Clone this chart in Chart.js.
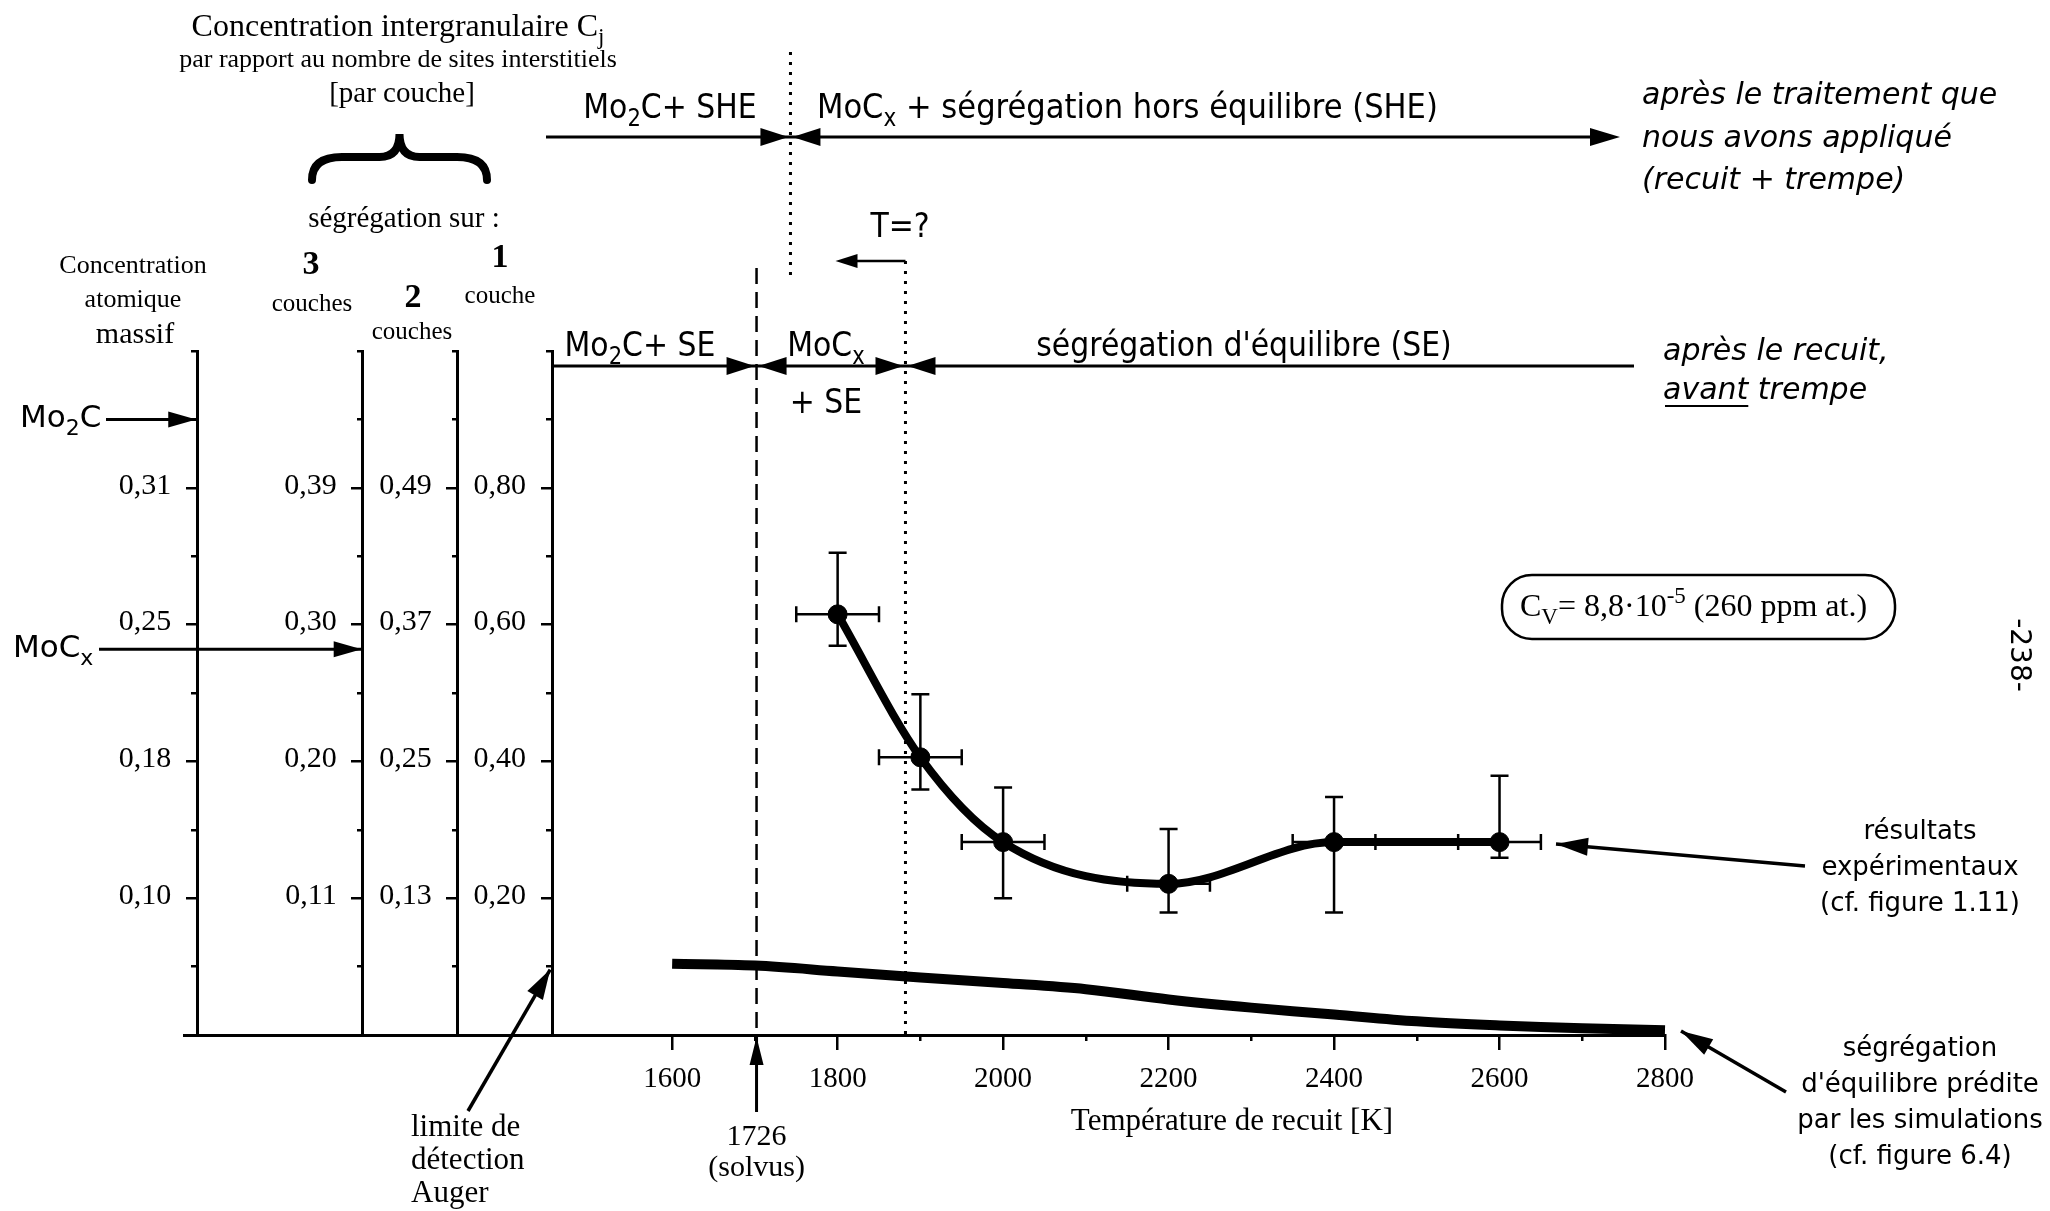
<!DOCTYPE html>
<html>
<head>
<meta charset="utf-8">
<script src="https://cdn.jsdelivr.net/npm/chart.js@4.4.1/dist/chart.umd.min.js"></script>
<style>
html, body { margin: 0; padding: 0; background: #fff; }
#wrap { width: 2050px; height: 1211px; position: relative; }
</style>
</head>
<body>
<div id="wrap"><canvas id="chart"></canvas></div>
<script>
// values
var expT = [1800, 1900, 2000, 2200, 2400, 2600];
var expC = [0.615, 0.406, 0.282, 0.221, 0.282, 0.282];
var expLow = [0.569, 0.359, 0.200, 0.179, 0.179, 0.259];
var expHigh = [0.705, 0.498, 0.362, 0.301, 0.348, 0.379];
var expTErr = [50, 50, 50, 50, 50, 50];

var simT = [1600, 1700, 1800, 1900, 2000, 2100, 2200, 2300, 2400, 2500, 2600, 2700, 2800];
var simC = [0.104, 0.1015, 0.093, 0.084, 0.076, 0.067, 0.052, 0.040, 0.030, 0.020, 0.014, 0.010, 0.007];

var majorX = [1600, 1800, 2000, 2200, 2400, 2600, 2800];
var minorX = [1700, 1900, 2100, 2300, 2500, 2700];
var majorY = [0.2, 0.4, 0.6, 0.8];
var minorY = [0.1, 0.3, 0.5, 0.7, 0.9, 1.0];

var massifLabels = ['0,10', '0,18', '0,25', '0,31'];
var couches3Labels = ['0,11', '0,20', '0,30', '0,39'];
var couches2Labels = ['0,13', '0,25', '0,37', '0,49'];
var couche1Labels = ['0,20', '0,40', '0,60', '0,80'];

// extra concentration axes, placed on the temperature scale
var massifAt = 1026, couches3At = 1226, couches2At = 1341, couche1At = 1455;
var labelShift = 31.5; // labels sit this far (in K) left of their axis

var solvusLineT = 1702, solvusLabel = '1726';
var sheT = 1743, tqT = 1882;
var mo2cLevel = 0.9, mocxLevel = 0.564, augerLevel = 0.1, recuitRow = 0.978;

var serif = "'Liberation Serif', 'Times New Roman', serif";
var sans = "'DejaVu Sans', Verdana, sans-serif";

function pts(xs, ys) {
    return xs.map(function (x, i) { return { x: x, y: ys[i] }; });
}

function fixedTicks(list) {
    return function (sc) { sc.ticks = list.map(function (v) { return { value: v }; }); };
}

// one concentration axis = line with long ticks, short ticks, and a label row
function yAxis(id, at, labels) {
    var s = {};
    s[id] = {
        type: 'linear', min: 0, max: 1, position: { x: at },
        afterBuildTicks: fixedTicks(majorY),
        ticks: { display: false },
        grid: { drawOnChartArea: false, tickLength: 10, lineWidth: 2.5, color: '#000' },
        border: { color: '#000', width: 3 }
    };
    s[id + 'm'] = {
        type: 'linear', min: 0, max: 1, position: { x: at },
        afterBuildTicks: fixedTicks(minorY),
        ticks: { display: false },
        grid: { drawOnChartArea: false, tickLength: 6, lineWidth: 2.5, color: '#000' },
        border: { display: false }
    };
    s[id + 'l'] = {
        type: 'linear', min: 0, max: 1, position: { x: at - labelShift },
        afterBuildTicks: fixedTicks(majorY),
        ticks: {
            callback: function (v, i) { return labels[i]; },
            font: { family: serif, size: 30 }, color: '#000', labelOffset: -2, autoSkip: false
        },
        grid: { display: false },
        border: { display: false }
    };
    return s;
}

var scales = {
    x: {
        type: 'linear', min: 1010, max: 2800, position: { y: 0 },
        afterBuildTicks: fixedTicks(majorX),
        ticks: {
            callback: function (v) { return String(v); },
            font: { family: serif, size: 29 }, color: '#000', padding: 14, autoSkip: false, maxRotation: 0
        },
        grid: { drawOnChartArea: false, tickLength: 13, lineWidth: 2.5, color: '#000' },
        border: { color: '#000', width: 3 }
    },
    xm: {
        type: 'linear', min: 1010, max: 2800, position: { y: 0 },
        afterBuildTicks: fixedTicks(minorX),
        ticks: { display: false },
        grid: { drawOnChartArea: false, tickLength: 6, lineWidth: 2.5, color: '#000' },
        border: { display: false }
    }
};
Object.assign(scales, yAxis('y', couche1At, couche1Labels));
Object.assign(scales, yAxis('y2', couches2At, couches2Labels));
Object.assign(scales, yAxis('y3', couches3At, couches3Labels));
Object.assign(scales, yAxis('yb', massifAt, massifLabels));

// text with sub/superscripts, optional horizontal squeeze
function rich(ctx, parts, x, y, o) {
    if (typeof parts === 'string') parts = [[parts]];
    var pre = (o.style || '') + ' ' + (o.weight || '') + ' ';
    var fMain = pre + o.size + 'px ' + o.family;
    var fSmall = pre + Math.round(o.size * 0.72) + 'px ' + o.family;
    var hs = o.hscale || 1;
    ctx.save();
    ctx.textBaseline = 'middle';
    ctx.textAlign = 'left';
    var w = 0;
    parts.forEach(function (p) { ctx.font = p[1] ? fSmall : fMain; w += ctx.measureText(p[0]).width; });
    var sx = x;
    if (o.align === 'center') sx = x - w * hs / 2;
    else if (o.align === 'right') sx = x - w * hs;
    ctx.translate(sx, y);
    ctx.scale(hs, 1);
    var cx = 0;
    parts.forEach(function (p) {
        ctx.font = p[1] ? fSmall : fMain;
        var dy = p[1] === 'sub' ? o.size * 0.32 : (p[1] === 'sup' ? -o.size * 0.36 : 0);
        ctx.fillText(p[0], cx, dy);
        cx += ctx.measureText(p[0]).width;
    });
    ctx.restore();
    return w * hs;
}

function head(ctx, tx, ty, fx, fy, len, half) {
    var a = Math.atan2(ty - fy, tx - fx);
    ctx.beginPath();
    ctx.moveTo(tx, ty);
    ctx.lineTo(tx - len * Math.cos(a) + half * Math.sin(a), ty - len * Math.sin(a) - half * Math.cos(a));
    ctx.lineTo(tx - len * Math.cos(a) - half * Math.sin(a), ty - len * Math.sin(a) + half * Math.cos(a));
    ctx.closePath();
    ctx.fill();
}

function arrow(ctx, x1, y1, x2, y2, len, half, lw) {
    ctx.lineWidth = lw || 3;
    ctx.beginPath();
    ctx.moveTo(x1, y1);
    ctx.lineTo(x2, y2);
    ctx.stroke();
    head(ctx, x2, y2, x1, y1, len || 28, half || 8);
}

function line(ctx, x1, y1, x2, y2, lw, dash) {
    ctx.save();
    ctx.lineWidth = lw || 3;
    ctx.setLineDash(dash || []);
    ctx.beginPath();
    ctx.moveTo(x1, y1);
    ctx.lineTo(x2, y2);
    ctx.stroke();
    ctx.restore();
}

function brace(ctx, x1, x2, yTip, yMid, yEnd) {
    var xm = (x1 + x2) / 2;
    ctx.save();
    ctx.lineWidth = 8;
    ctx.lineCap = 'round';
    ctx.beginPath();
    ctx.moveTo(x1, yEnd);
    ctx.quadraticCurveTo(x1, yMid, x1 + 30, yMid);
    ctx.lineTo(xm - 20, yMid);
    ctx.quadraticCurveTo(xm, yMid, xm, yTip);
    ctx.quadraticCurveTo(xm, yMid, xm + 20, yMid);
    ctx.lineTo(x2 - 30, yMid);
    ctx.quadraticCurveTo(x2, yMid, x2, yEnd);
    ctx.stroke();
    ctx.restore();
}

var errorBars = {
    id: 'errorBars',
    beforeDatasetsDraw: function (chart) {
        var ctx = chart.ctx, X = chart.scales.x, Y = chart.scales.y;
        ctx.save();
        ctx.strokeStyle = '#000';
        // vertical phase limits
        var sx = X.getPixelForValue(solvusLineT), tx = X.getPixelForValue(tqT), hx = X.getPixelForValue(sheT);
        line(ctx, sx, 268, sx, Y.getPixelForValue(0), 2.5, [16, 8]);
        line(ctx, tx, 261, tx, Y.getPixelForValue(0), 3, [3, 7]);
        line(ctx, hx, 52, hx, 281, 3, [3, 7]);
        ctx.lineWidth = 2.5;
        expT.forEach(function (t, i) {
            var x = X.getPixelForValue(t), y = Y.getPixelForValue(expC[i]);
            var yl = Y.getPixelForValue(expLow[i]), yh = Y.getPixelForValue(expHigh[i]);
            var xl = X.getPixelForValue(t - expTErr[i]), xh = X.getPixelForValue(t + expTErr[i]);
            ctx.beginPath();
            ctx.moveTo(x, yl); ctx.lineTo(x, yh);
            ctx.moveTo(x - 9, yl); ctx.lineTo(x + 9, yl);
            ctx.moveTo(x - 9, yh); ctx.lineTo(x + 9, yh);
            ctx.moveTo(xl, y); ctx.lineTo(xh, y);
            ctx.moveTo(xl, y - 8); ctx.lineTo(xl, y + 8);
            ctx.moveTo(xh, y - 8); ctx.lineTo(xh, y + 8);
            ctx.stroke();
        });
        ctx.restore();
    }
};

var annotations = {
    id: 'annotations',
    afterDraw: function (chart) {
        var ctx = chart.ctx, X = chart.scales.x, Y = chart.scales.y;
        var px = function (v) { return X.getPixelForValue(v); };
        var py = function (v) { return Y.getPixelForValue(v); };
        ctx.save();
        ctx.fillStyle = '#000';
        ctx.strokeStyle = '#000';

        // header over the concentration axes
        rich(ctx, [['Concentration intergranulaire C'], ['j', 'sub']], 398, 28, { family: serif, size: 32, align: 'center' });
        rich(ctx, 'par rapport au nombre de sites interstitiels', 398, 60, { family: serif, size: 26, align: 'center' });
        rich(ctx, '[par couche]', 402, 94, { family: serif, size: 29, align: 'center' });
        brace(ctx, 312, 487, 134, 157, 180);
        rich(ctx, 'ségrégation sur :', 404, 219, { family: serif, size: 29, align: 'center' });
        rich(ctx, 'Concentration', 133, 266, { family: serif, size: 26, align: 'center' });
        rich(ctx, 'atomique', 133, 300, { family: serif, size: 26, align: 'center' });
        rich(ctx, 'massif', 135, 335, { family: serif, size: 30, align: 'center' });
        rich(ctx, '3', 311, 265, { family: serif, size: 34, weight: 'bold', align: 'center' });
        rich(ctx, 'couches', 312, 304, { family: serif, size: 25, align: 'center' });
        rich(ctx, '2', 413, 298, { family: serif, size: 34, weight: 'bold', align: 'center' });
        rich(ctx, 'couches', 412, 332, { family: serif, size: 25, align: 'center' });
        rich(ctx, '1', 500, 258, { family: serif, size: 34, weight: 'bold', align: 'center' });
        rich(ctx, 'couche', 500, 296, { family: serif, size: 25, align: 'center' });

        // phase arrows on the left
        rich(ctx, [['Mo'], ['2', 'sub'], ['C']], 20, py(mo2cLevel), { family: sans, size: 31 });
        arrow(ctx, 106, py(mo2cLevel), px(massifAt) - 1, py(mo2cLevel), 28, 8, 3);
        rich(ctx, [['MoC'], ['x', 'sub']], 13, py(mocxLevel), { family: sans, size: 31 });
        arrow(ctx, 99, py(mocxLevel), px(couches3At) - 1, py(mocxLevel), 28, 8, 3);

        // row after quench
        var hx = px(sheT), sq = { family: sans, size: 34, hscale: 0.88 };
        line(ctx, 546, 137, 1595, 137, 3);
        head(ctx, 1620, 137, 1500, 137, 30, 9);
        head(ctx, hx - 2, 137, hx - 100, 137, 28, 9);
        head(ctx, hx + 2, 137, hx + 100, 137, 28, 9);
        rich(ctx, [['Mo'], ['2', 'sub'], ['C+ SHE']], 670, 109, Object.assign({ align: 'center' }, sq));
        rich(ctx, [['MoC'], ['x', 'sub'], [' + ségrégation hors équilibre (SHE)']], 817, 109, { family: sans, size: 34, hscale: 0.9 });

        // T=? marker
        var tx = px(tqT);
        rich(ctx, 'T=?', 900, 228, Object.assign({ align: 'center' }, sq));
        line(ctx, tx, 261, tx - 50, 261, 2.5);
        head(ctx, tx - 70, 261, tx, 261, 22, 7);

        // row after annealing
        var ry = py(recuitRow), sx = px(solvusLineT);
        line(ctx, px(couche1At), ry, 1634, ry, 3);
        head(ctx, sx - 2, ry, sx - 100, ry, 28, 9);
        head(ctx, sx + 2, ry, sx + 100, ry, 28, 9);
        head(ctx, tx - 2, ry, tx - 100, ry, 28, 9);
        head(ctx, tx + 2, ry, tx + 100, ry, 28, 9);
        rich(ctx, [['Mo'], ['2', 'sub'], ['C+ SE']], 640, 347, Object.assign({ align: 'center' }, sq));
        rich(ctx, [['MoC'], ['x', 'sub']], 826, 347, Object.assign({ align: 'center' }, sq));
        rich(ctx, '+ SE', 826, 404, Object.assign({ align: 'center' }, sq));
        rich(ctx, "ségrégation d'équilibre (SE)", 1244, 347, Object.assign({ align: 'center' }, sq));

        // italic notes
        var it = { family: sans, size: 30, style: 'italic' };
        rich(ctx, 'après le traitement que', 1642, 96, it);
        rich(ctx, 'nous avons appliqué', 1642, 139, it);
        rich(ctx, '(recuit + trempe)', 1642, 181, it);
        rich(ctx, 'après le recuit,', 1663, 352, it);
        var wa = rich(ctx, 'avant', 1663, 391, it);
        rich(ctx, ' trempe', 1663 + wa, 391, it);
        line(ctx, 1665, 406, 1663 + wa, 406, 2);

        // box with vacancy concentration
        ctx.lineWidth = 2.5;
        ctx.beginPath();
        ctx.roundRect(1502, 575, 393, 64, 30);
        ctx.stroke();
        rich(ctx, [['C'], ['V', 'sub'], ['= 8,8·10'], ['-5', 'sup'], [' (260 ppm at.)']], 1520, 608, { family: serif, size: 32 });

        // page number
        ctx.save();
        ctx.translate(2018, 655);
        ctx.rotate(Math.PI / 2);
        rich(ctx, '-238-', 0, 0, { family: sans, size: 28, align: 'center' });
        ctx.restore();

        // bottom labels
        rich(ctx, 'Température de recuit [K]', 1232, 1122, { family: serif, size: 31, align: 'center' });
        rich(ctx, solvusLabel, sx, 1137, { family: serif, size: 30, align: 'center' });
        rich(ctx, '(solvus)', sx, 1168, { family: serif, size: 30, align: 'center' });
        arrow(ctx, sx, 1112, sx, py(0) + 2, 28, 7, 3);
        rich(ctx, 'limite de', 411, 1128, { family: serif, size: 31 });
        rich(ctx, 'détection', 411, 1161, { family: serif, size: 31 });
        rich(ctx, 'Auger', 411, 1194, { family: serif, size: 31 });
        arrow(ctx, 468, 1111, px(couche1At) - 2, py(augerLevel) + 3, 30, 9, 3.5);

        // right-hand notes
        var rs = { family: sans, size: 26, align: 'center' };
        rich(ctx, 'résultats', 1920, 832, rs);
        rich(ctx, 'expérimentaux', 1920, 868, rs);
        rich(ctx, '(cf. figure 1.11)', 1920, 904, rs);
        arrow(ctx, 1805, 866, 1556, 844, 32, 9, 3.5);
        rich(ctx, 'ségrégation', 1920, 1049, rs);
        rich(ctx, "d'équilibre prédite", 1920, 1085, rs);
        rich(ctx, 'par les simulations', 1920, 1121, rs);
        rich(ctx, '(cf. figure 6.4)', 1920, 1157, rs);
        arrow(ctx, 1786, 1092, 1681, 1031, 32, 9, 3.5);

        ctx.restore();
    }
};

var chart = new Chart(document.getElementById('chart').getContext('2d'), {
    type: 'scatter',
    data: {
        datasets: [{
            label: 'ségrégation prédite',
            type: 'line',
            data: pts(simT, simC),
            borderColor: '#000',
            borderWidth: 10,
            borderCapStyle: 'butt',
            pointRadius: 0,
            tension: 0.35,
            clip: false
        }, {
            label: 'ajustement',
            type: 'line',
            data: pts(expT, expC),
            borderColor: '#000',
            borderWidth: 8,
            pointRadius: 0,
            cubicInterpolationMode: 'monotone'
        }, {
            label: 'résultats expérimentaux',
            data: pts(expT, expC),
            backgroundColor: '#000',
            borderColor: '#000',
            pointRadius: 9.5
        }]
    },
    options: {
        responsive: true,
        maintainAspectRatio: false,
        devicePixelRatio: 1,
        animation: false,
        layout: { padding: { left: 184, right: 385, top: 351, bottom: 176 } },
        plugins: { legend: { display: false }, tooltip: { enabled: false } },
        scales: scales
    },
    plugins: [errorBars, annotations]
});
</script>
</body>
</html>
